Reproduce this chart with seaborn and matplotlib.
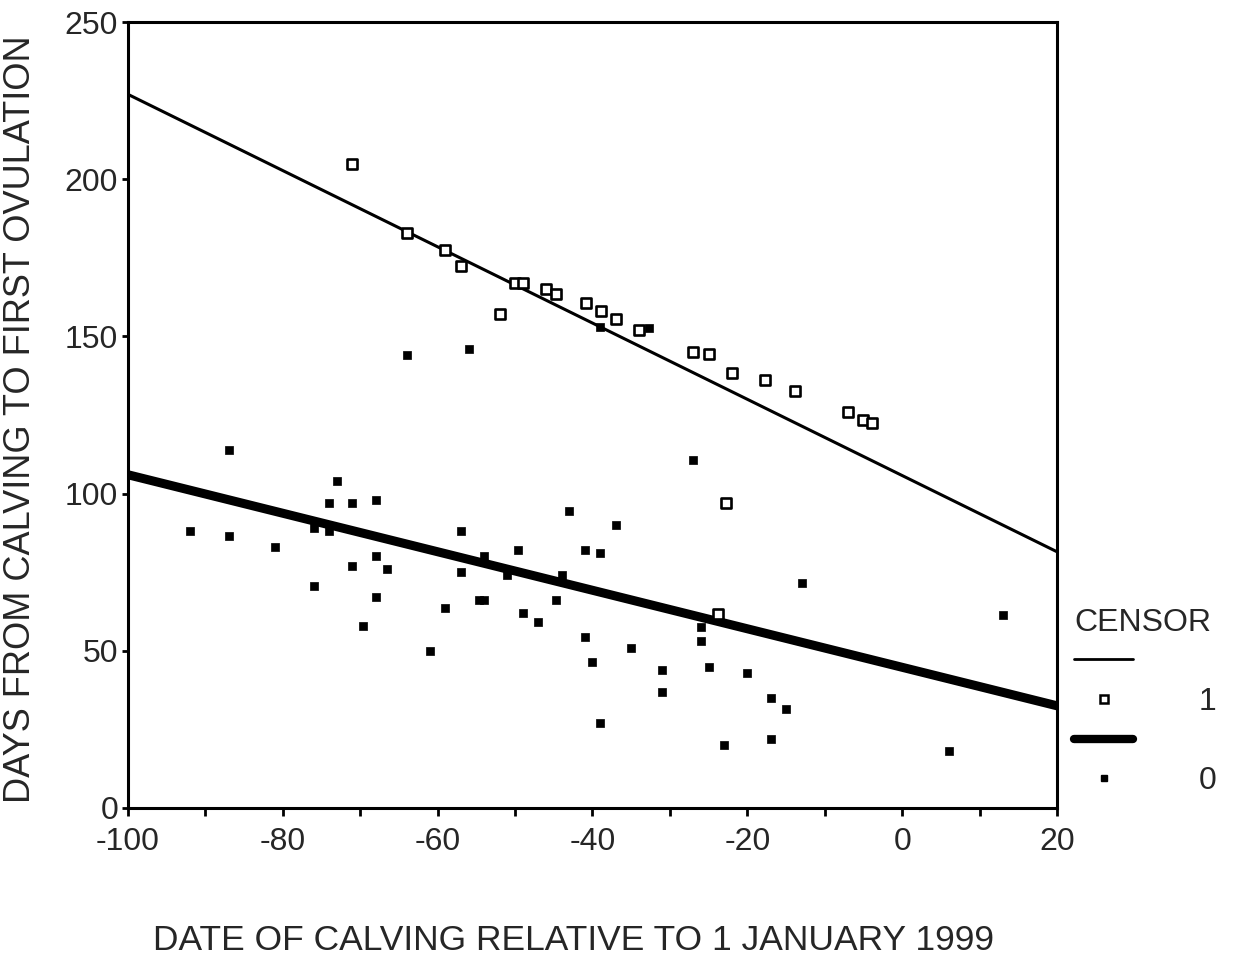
import numpy as np
import pandas as pd
import matplotlib
matplotlib.use("Agg")
import matplotlib.pyplot as plt
import seaborn as sns
from matplotlib.lines import Line2D
from matplotlib.ticker import MultipleLocator

# Données
# CENSOR = 1 (carrés vides)
x_c1 = [-71, -64, -59, -57, -52, -50, -49, -46, -44.7, -40.8, -38.9, -37, -34,
        -27, -25, -22, -17.7, -13.8, -7, -5, -3.9, -22.8, -23.8]
y_c1 = [205, 183, 177.5, 172.5, 157, 167, 167, 165, 163.5, 160.5, 158, 155.5, 152,
        145, 144.5, 138.5, 136, 132.5, 126, 123.5, 122.5, 97, 61.7]

# CENSOR = 0 (petits carrés pleins)
x_c0 = [-87, -73, -74, -71, -68, -92, -87, -81, -76, -74, -68, -71, -66.5, -76,
        -68, -59, -69.6, -61, -27, -43, -37, -57, -49.6, -41, -39, -54, -57, -51,
        -44, -54.7, -54, -44.7, -49, -47, -26, -26, -41, -35, -40, -31, -25, -20,
        -31, -39, -23, -13, 13, -17, -15, -17, 6, -64, -56, -39, -32.7]
y_c0 = [114, 104, 97, 97, 98, 88, 86.5, 83, 89, 88, 80, 77, 76, 70.6,
        67, 63.6, 58, 50, 110.7, 94.5, 90, 88, 82, 82, 81, 80, 75, 74,
        74, 66, 66, 66, 62, 59, 57.6, 53, 54.4, 51, 46.4, 44, 45, 43,
        37, 27, 20, 71.6, 61.4, 35, 31.5, 22, 18, 144, 146, 153, 152.6]

# Droites d'ajustement (extrémités)
fit_x = [-100, 20]
fit_c1 = [227, 81.5]
fit_c0 = [106, 32.5]

xticks = [-100, -80, -60, -40, -20, 0, 20]
yticks = [0, 50, 100, 150, 200, 250]

df1 = pd.DataFrame({'date': x_c1, 'jours': y_c1})
df0 = pd.DataFrame({'date': x_c0, 'jours': y_c0})
fit1 = pd.DataFrame({'date': fit_x, 'jours': fit_c1})
fit0 = pd.DataFrame({'date': fit_x, 'jours': fit_c0})

sns.set_style("ticks")
plt.rcParams['font.family'] = ['Liberation Sans', 'DejaVu Sans']
plt.rcParams['axes.unicode_minus'] = False

fig = plt.figure(figsize=(12.46, 9.71), dpi=100)
ax = fig.add_axes([0.1027, 0.1679, 0.7456, 0.8094])

# Lignes
sns.lineplot(data=fit1, x='date', y='jours', ax=ax, color='black', lw=2.2)
sns.lineplot(data=fit0, x='date', y='jours', ax=ax, color='black', lw=6.5)

# Points
sns.scatterplot(data=df1, x='date', y='jours', ax=ax, marker='s', s=42,
                facecolor='white', edgecolor='black', linewidth=1.9, zorder=3)
sns.scatterplot(data=df0, x='date', y='jours', ax=ax, marker='s', s=28,
                color='black', edgecolor='black', linewidth=0.5, zorder=3)

ax.set_xlim(-100, 20)
ax.set_ylim(0, 250)
ax.set_xticks(xticks)
ax.set_yticks(yticks)
ax.xaxis.set_minor_locator(MultipleLocator(10))
ax.tick_params(axis='both', which='both', direction='out', width=2, color='black',
               labelsize=23)
ax.tick_params(axis='x', which='both', length=6, pad=8)
ax.tick_params(axis='y', which='both', length=4, pad=3)

for sp in ax.spines.values():
    sp.set_linewidth(2.2)
    sp.set_color('black')

ax.set_xlabel('DATE OF CALVING RELATIVE TO 1 JANUARY 1999', fontsize=25.5)
ax.set_ylabel('DAYS FROM CALVING TO FIRST OVULATION', fontsize=26)
ax.xaxis.set_label_coords(0.48, -0.147)
ax.yaxis.set_label_coords(-0.097, 0.495)

# Légende
handles = [
    Line2D([], [], color='black', lw=2),
    Line2D([], [], color='black', ls='none', marker='s', markersize=6,
           markerfacecolor='white', markeredgewidth=1.8),
    Line2D([], [], color='black', lw=6),
    Line2D([], [], color='black', ls='none', marker='s', markersize=4.5),
]
labels = [' ', '1', ' ', '0']
leg = fig.legend(handles, labels, title='CENSOR', loc='upper left',
                 bbox_to_anchor=(0.852, 0.387), frameon=False, fontsize=23,
                 title_fontsize=23, handlelength=1.85, handletextpad=2.05,
                 labelspacing=0.3, borderaxespad=0, alignment='left')

fig.savefig('out.png', dpi=100)
